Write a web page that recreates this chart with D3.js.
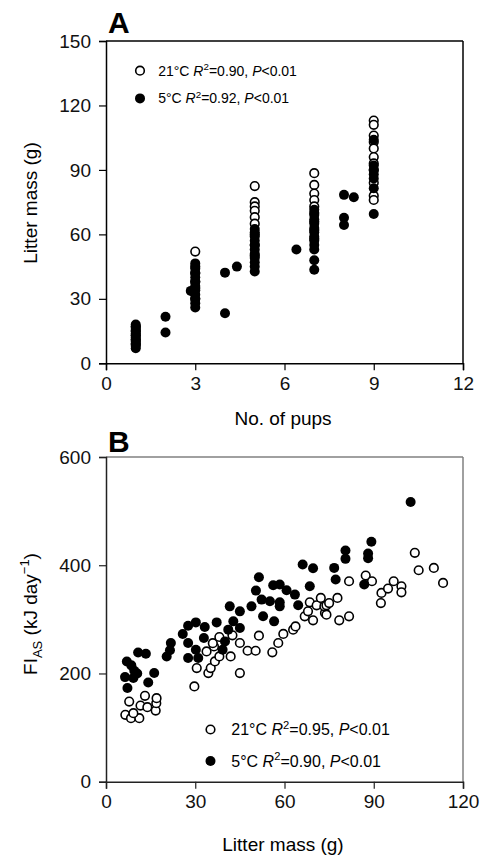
<!DOCTYPE html>
<html><head><meta charset="utf-8">
<script src="https://cdn.jsdelivr.net/npm/d3@7"></script>
<style>body{margin:0;background:#fff}svg{display:block;font-family:"Liberation Sans",Arial,sans-serif}</style>
</head><body><svg id="c" width="483" height="858"></svg>
<script>
// ---- Panel A data: No. of pups vs litter mass (g)
const pupsWarm = [1,1,1,1,1, 3,3,3,3,3,3, 5,5,5,5,5,5,5,5,5, 7,7,7,7,7,7,7,7,7, 9,9,9,9,9,9,9,9,9,9,9];
const massWarm = [9,11,13,15,17, 52,45,42,38,35,30, 82.5,75,73,71,68,65,60,55,50, 88.5,83,79,76,73,70,66,62,58, 113,111,106,103,100,96,93,90,84,78,76];
const pupsCold = [1,1,1,1,1,1,1,1,1,1,1,1, 2,2, 2.85, 3,3,3,3,3,3,3,3,3,3,3, 4,4, 4.4, 5,5,5,5,5,5,5,5,5,5,5, 6.4, 7,7,7,7,7,7,7,7,7,7,7,7, 8,8,8, 8.33, 9,9,9,9,9,9,9];
const massCold = [7,8,9,10,11,12,13,14,15,16,17,18, 21.7,14.3, 33.7, 26,28,30,32,34,36,38,40,42,44,46.5, 42.2,23.3, 45, 42.7,45,47,49,51,53,55,57,59,61,62.5, 53, 43.5,48,53,55,57,59,61,63,65,67,69,71.5, 78.4,67.7,64.4, 77.3, 69.5,81.5,86,88,90,92,104];
const pupsTicks = [0,3,6,9,12];
const massTicksA = [0,30,60,90,120,150];

// ---- Panel B data: litter mass (g) vs FI_AS (kJ/day)
const litterWarm = [6.5,8.4,11.2,9.2,7.8,11.6,13.9,13.1,16.7,16.9,17, 29.7,30.5,34.4,35.2,36.6,33.8,36.3,35.9,38.1,38.1,41.9,42.5,45,45,47.6,50.3,51.4,55.9,57.9,59.6,62.9,63.7,66.8,67.9,69.6,73.6,74.1,78.4,81.7,68.5,70.8,72.2,73.4,74.1,75,77.8,81.7,87.3,89.4,92.6,92.4,94.8,96.7,99.3,99.3,103.8,105.1,110.2,113.3];
const fiWarm = [123.5,117.4,117.4,126.6,148.1,140.7,137.8,158.7,131.5,145,154.4, 176,210,200.7,210,222.2,240.7,250,256,231.5,267.4,231.5,270.4,256.3,200.7,242,242,269.8,239,256.3,273,281,287,305.6,314.8,298.2,311.8,308.7,298.2,305.6,331.5,326,339.6,324,326,330,339.6,370.4,381,370.4,348.9,330,356.9,370.4,361.1,350,423,390.7,395.1,367.4];
const litterCold = [7.2,6.4,9.2,7,8.5,9.5,10.5,10.8,13.4,14.2,16.2,20.4,21.5,21.8,25.8,27.6,30.2,27.6,30.2,27.6,31,32.9,33.2,37.2,39.2,40,41.1,42.8,45,41.6,45,48.9,51.4,50.4,52.3,52.8,55.1,56.5,56.2,58.4,58.4,58.4,60.7,63.5,64.6,66.1,68.5,69.6,76.7,77.2,80.5,80.5,86.8,88.1,88.1,89.2,102.4];
const fiCold = [173,193.3,191.5,222.2,215,205,200,238.9,236.5,183.3,200.7,231.5,243,256.3,273,288.3,294.4,256.3,243.9,228.5,228.5,265.6,285.9,294.4,243.9,259.3,281,296.3,284,324,314.8,324,377.8,353.1,336.5,305.6,333.3,296.3,363,364.3,331.5,324,353.7,345.7,326,401.3,361.2,394.5,395.1,373.5,427.2,411.8,364.3,421.7,413,443.3,516.7];
const litterTicks = [0,30,60,90,120];
const fiTicks = [0,200,400,600];

const svg = d3.select("#c");
const L = 106, R = 463;

function panel(cfg){
  const x = d3.scaleLinear().domain(cfg.xd).range([L,R]);
  const y = d3.scaleLinear().domain(cfg.yd).range([cfg.bottom,cfg.top]);
  const g = svg.append("g");
  // frame
  g.append("line").attr("x1",L).attr("x2",R).attr("y1",cfg.top).attr("y2",cfg.top)
    .attr("stroke",cfg.frame).attr("stroke-width",1.5);
  g.append("line").attr("x1",R).attr("x2",R).attr("y1",cfg.top).attr("y2",cfg.bottom)
    .attr("stroke",cfg.frame).attr("stroke-width",1.5);
  const xa = g.append("g").attr("transform",`translate(0,${cfg.bottom})`)
    .call(d3.axisBottom(x).tickValues(cfg.xt).tickSize(7).tickPadding(6).tickFormat(d3.format("d")));
  const ya = g.append("g").attr("transform",`translate(${L},0)`)
    .call(d3.axisLeft(y).tickValues(cfg.yt).tickSize(7).tickPadding(8).tickFormat(d3.format("d")));
  [xa,ya].forEach(a=>{
    a.select(".domain").attr("stroke",cfg.axis).attr("stroke-width",1.5);
    a.selectAll(".tick line").attr("stroke",cfg.axis).attr("stroke-width",1.2);
    a.selectAll("text").attr("font-size",19).attr("fill","#111").attr("font-family","Liberation Sans, Arial, sans-serif");
  });
  // points: open first, filled on top
  g.append("g").selectAll("circle").data(cfg.warm).join("circle")
    .attr("cx",d=>x(d[0])).attr("cy",d=>y(d[1])).attr("r",4.3)
    .attr("fill","#fff").attr("stroke","#000").attr("stroke-width",1.6);
  g.append("g").selectAll("circle").data(cfg.cold).join("circle")
    .attr("cx",d=>x(d[0])).attr("cy",d=>y(d[1])).attr("r",5).attr("fill","#000");
  return {x,y,g};
}

const A = panel({xd:[0,12],yd:[0,150],top:41,bottom:363.3,xt:pupsTicks,yt:massTicksA,frame:"#000",axis:"#000",
  warm:pupsWarm.map((d,i)=>[d,massWarm[i]]), cold:pupsCold.map((d,i)=>[d,massCold[i]])});
const B = panel({xd:[0,120],yd:[0,600],top:457,bottom:781.7,xt:litterTicks,yt:fiTicks,frame:"#808080",axis:"#222",
  warm:litterWarm.map((d,i)=>[d,fiWarm[i]]), cold:litterCold.map((d,i)=>[d,fiCold[i]])});

// panel letters
svg.append("text").attr("x",108).attr("y",33).attr("font-size",30).attr("font-weight","bold").text("A");
svg.append("text").attr("x",108).attr("y",451.5).attr("font-size",30).attr("font-weight","bold").text("B");

// axis titles
svg.append("text").attr("x",283).attr("y",425).attr("text-anchor","middle").attr("font-size",19).text("No. of pups");
svg.append("text").attr("x",283).attr("y",851).attr("text-anchor","middle").attr("font-size",19).text("Litter mass (g)");
svg.append("text").attr("transform","translate(37,203) rotate(-90)").attr("text-anchor","middle").attr("font-size",19).text("Litter mass (g)");
const fy = svg.append("text").attr("transform","translate(37,614) rotate(-90)").attr("text-anchor","middle").attr("font-size",19);
fy.append("tspan").text("FI");
fy.append("tspan").attr("font-size",13).attr("dy",5).text("AS");
fy.append("tspan").attr("dy",-5).text(" (kJ day");
fy.append("tspan").attr("font-size",13).attr("dy",-8).text("\u22121");
fy.append("tspan").attr("dy",8).text(")");

// legends
function legend(cx, cy, gap, fs, items){
  items.forEach((it,i)=>{
    const yy = cy + i*gap;
    svg.append("circle").attr("cx",cx).attr("cy",yy).attr("r",it.open?4.3:5)
      .attr("fill",it.open?"#fff":"#000").attr("stroke","#000").attr("stroke-width",it.open?1.6:0);
    const t = svg.append("text").attr("x",cx+fs*1.3).attr("y",yy+fs*0.36).attr("font-size",fs);
    t.append("tspan").text(it.temp+" ");
    t.append("tspan").attr("font-style","italic").text("R");
    t.append("tspan").attr("font-size",fs*0.7).attr("dy",-fs*0.4).text("2");
    t.append("tspan").attr("dy",fs*0.4).text("="+it.r2+", ");
    t.append("tspan").attr("font-style","italic").text("P");
    t.append("tspan").text("<0.01");
  });
}
legend(140,70.7,27.7,14,[{open:true,temp:"21\u00b0C",r2:"0.90"},{open:false,temp:"5\u00b0C",r2:"0.92"}]);
legend(210.5,729.5,31.5,16,[{open:true,temp:"21\u00b0C",r2:"0.95"},{open:false,temp:"5\u00b0C",r2:"0.90"}]);
</script></body></html>
